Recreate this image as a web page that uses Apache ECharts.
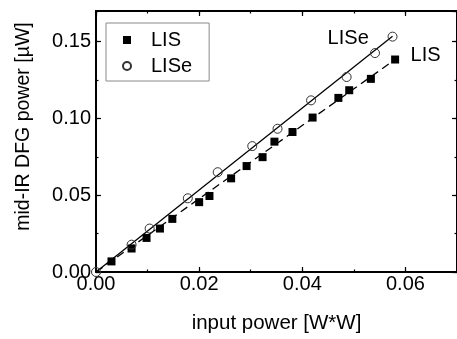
<!DOCTYPE html>
<html>
<head>
<meta charset="utf-8">
<script src="https://cdn.jsdelivr.net/npm/echarts@6/dist/echarts.min.js"></script>
<style>
html,body{margin:0;padding:0;background:#fff;}
#chart{width:457px;height:339px;}
</style>
</head>
<body>
<div id="chart"></div>
<script>
// ---- data ----
const lisX  = [0.0030, 0.0069, 0.0098, 0.0124, 0.0148, 0.0200, 0.0220, 0.0262, 0.0292, 0.0323, 0.0346, 0.0381, 0.0420, 0.0470, 0.0491, 0.0533, 0.0580];
const lisY  = [0.0069, 0.0153, 0.0222, 0.0283, 0.0346, 0.0455, 0.0495, 0.0610, 0.0690, 0.0748, 0.0849, 0.0912, 0.1006, 0.1134, 0.1184, 0.1258, 0.1384];
const liseX = [0.0000, 0.0069, 0.0104, 0.0178, 0.0236, 0.0303, 0.0352, 0.0417, 0.0486, 0.0541, 0.0575];
const liseY = [0.0000, 0.0178, 0.0283, 0.0480, 0.0650, 0.0820, 0.0933, 0.1118, 0.1270, 0.1426, 0.1533];
// linear fits (drawn lines)
const lisFitX  = [0.0, 0.0580];
const lisFitY  = [0.0, 0.1384];
const liseFitX = [0.0, 0.0575];
const liseFitY = [0.0, 0.1535];
const xTicks = [0.00, 0.02, 0.04, 0.06];
const yTicks = [0.00, 0.05, 0.10, 0.15];
const seriesNames = ['LIS', 'LISe'];

const zip = (a, b) => a.map((v, i) => [v, b[i]]);
const FONT = 'Liberation Sans, Arial, sans-serif';

const xMin = 0, xMax = 0.07, yMin = 0, yMax = 0.17;

function xAx(pos, interval, len, labels, line) {
  return {
    type: 'value', position: pos, min: xMin, max: xMax, interval: interval,
    axisLine: {show: line, onZero: false, lineStyle: {color: '#000', width: 2}},
    axisTick: {show: true, inside: true, length: len, lineStyle: {color: '#000', width: 1.2}},
    axisLabel: labels ? {
      show: true, margin: 2, color: '#000', fontSize: 20, fontFamily: FONT,
      showMaxLabel: false,
      formatter: v => xTicks.some(t => Math.abs(t - v) < 1e-9) ? v.toFixed(2) : ''
    } : {show: false},
    splitLine: {show: false}
  };
}
function yAx(pos, interval, len, labels, line) {
  return {
    type: 'value', position: pos, min: yMin, max: yMax, interval: interval,
    axisLine: {show: line, onZero: false, lineStyle: {color: '#000', width: 2}},
    axisTick: {show: true, inside: true, length: len, lineStyle: {color: '#000', width: 1.2}},
    axisLabel: labels ? {
      show: true, margin: 5, color: '#000', fontSize: 20, fontFamily: FONT,
      showMaxLabel: false,
      formatter: v => yTicks.some(t => Math.abs(t - v) < 1e-9) ? v.toFixed(2) : ''
    } : {show: false},
    splitLine: {show: false}
  };
}

const xAxes = [
  Object.assign(xAx('bottom', 0.02, 5, true, true), {
    name: 'input power [W*W]', nameLocation: 'middle', nameGap: 41,
    nameTextStyle: {color: '#000', fontSize: 20.5, fontFamily: FONT}
  }),
  xAx('bottom', 0.01, 2.5, false, false),
  xAx('top', 0.02, 5, false, true),
  xAx('top', 0.01, 2.5, false, false)
];
const yAxes = [
  Object.assign(yAx('left', 0.05, 5, true, true), {
    name: 'mid-IR DFG power [µW]', nameLocation: 'middle', nameGap: 62,
    nameTextStyle: {color: '#000', fontSize: 19.5, fontFamily: FONT, padding: [0, 0, 0, 30]}
  }),
  yAx('left', 0.025, 2.5, false, false),
  yAx('right', 0.05, 5, false, true),
  yAx('right', 0.025, 2.5, false, false)
];

const chart = echarts.init(document.getElementById('chart'), null, {renderer: 'canvas'});
chart.setOption({
  animation: false,
  backgroundColor: '#fff',
  grid: {left: 96, top: 11, right: -1, bottom: 58, containLabel: false},
  xAxis: xAxes,
  yAxis: yAxes,
  legend: {
    show: true, orient: 'vertical', left: 106, top: 23,
    data: seriesNames,
    itemWidth: 8, itemHeight: 8, itemGap: 6,
    padding: [7, 17, 5, 16],
    borderColor: '#8a8a8a', borderWidth: 1, backgroundColor: '#fff',
    textStyle: {color: '#000', fontSize: 20, fontFamily: FONT, lineHeight: 20, padding: [0, 0, 0, 15]}
  },
  series: [
    {
      name: 'LISe fit', type: 'line', data: zip(liseFitX, liseFitY),
      showSymbol: false, symbol: 'none', silent: true, z: 1,
      lineStyle: {color: '#000', width: 1.3, type: 'solid'},
      markPoint: {
        symbol: 'circle', symbolSize: 0, silent: true,
        label: {show: true, position: 'inside', color: '#000', fontSize: 20, fontFamily: FONT, formatter: 'LISe'},
        data: [{coord: [0.0489, 0.1518]}]
      }
    },
    {
      name: 'LIS fit', type: 'line', data: zip(lisFitX, lisFitY),
      showSymbol: false, symbol: 'none', silent: true, z: 1,
      lineStyle: {color: '#000', width: 1.3, type: [8, 5]},
      markPoint: {
        symbol: 'circle', symbolSize: 0, silent: true,
        label: {show: true, position: 'inside', color: '#000', fontSize: 20, fontFamily: FONT, formatter: 'LIS'},
        data: [{coord: [0.0639, 0.1413]}]
      }
    },
    {
      name: seriesNames[0], type: 'scatter', data: zip(lisX, lisY),
      symbol: 'rect', symbolSize: 8, z: 3,
      itemStyle: {color: '#000', opacity: 1}
    },
    {
      name: seriesNames[1], type: 'scatter', data: zip(liseX, liseY),
      symbol: 'circle', symbolSize: 9, z: 3,
      itemStyle: {color: 'rgba(255,255,255,0)', borderColor: '#333', borderWidth: 1, opacity: 1}
    }
  ]
});
</script>
</body>
</html>
